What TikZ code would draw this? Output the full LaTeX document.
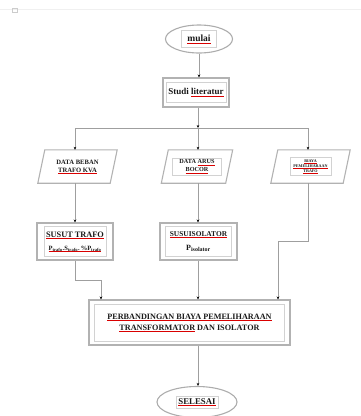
\documentclass[tikz,border=0pt]{standalone}
\usepackage{fontspec}
\setmainfont{Liberation Serif}
\usetikzlibrary{shapes.geometric,arrows.meta}
\newsavebox\rulbox
\newcommand\rul[1]{\sbox\rulbox{#1}\rlap{\textcolor{red!85!black}{\rule[-1.3pt]{\wd\rulbox}{0.35pt}}}\usebox\rulbox}
\tikzset{
  edge/.style={draw=gray!75, line width=0.7pt},
  arr/.style={edge, -{Stealth[length=3pt,width=2.6pt,color=black]}},
  outerbox/.style={draw=gray!60, line width=1.1pt, rectangle, inner sep=0pt},
  outerell/.style={draw=gray!65, line width=1.1pt, ellipse, inner sep=0pt},
  paraframe/.style={draw=gray!60, line width=1.1pt, line join=miter},
  parabody/.style={rectangle, inner sep=0pt},
  txt/.style={draw=gray!35, line width=0.3pt, inner sep=1pt, font=\bfseries, text=black!90, align=center},
}
\newcommand\paradraw[1]{\draw[paraframe] ([xshift=-3.5pt]#1.south west) -- ([xshift=-3.5pt]#1.south east) -- ([xshift=3.5pt]#1.north east) -- ([xshift=3.5pt]#1.north west) -- cycle;}
\begin{document}
\begin{tikzpicture}[x=1pt,y=-1pt]
\useasboundingbox (0,0) rectangle (361,416);
% page edge
\draw[gray!12, line width=0.4pt] (0,9.5) -- (361,9.5);
\draw[gray!40, line width=0.4pt] (12,8) rectangle (17,12);
% nodes
\node[outerell, minimum width=67pt, minimum height=28pt] (mulai) at (199,39) {};
\node[txt, minimum width=35pt, minimum height=17pt, font=\bfseries\fontsize{9.5}{10}\selectfont] (mulait) at (mulai.center) {\rul{mulai}};

\node[outerbox, minimum width=66pt, minimum height=29pt] (studi) at (196,92.5) {};
\node[txt, minimum width=60pt, minimum height=20pt, font=\bfseries\fontsize{9}{10}\selectfont] (studit) at (studi.center) {Studi \rul{literatur}};

\coordinate (jl) at (75,128);
\coordinate (jm) at (198,128);
\coordinate (jr) at (308,128);

\node[parabody, minimum width=72pt, minimum height=33pt] (p1) at (77.5,166.5) {};
\paradraw{p1}
\node[font=\bfseries\fontsize{6.6}{8}\selectfont, text=black!90, align=center, inner sep=1pt] (p1t) at (p1.center) {DATA BEBAN\\ \rul{TRAFO KVA}};

\node[parabody, minimum width=64pt, minimum height=33pt] (p2) at (197,166.5) {};
\paradraw{p2}
\node[txt, minimum width=49pt, minimum height=17pt, font=\bfseries\fontsize{6.2}{8}\selectfont] (p2t) at (p2.center) {DATA \rul{ARUS}\\ \rul{BOCOR}};

\node[parabody, minimum width=72pt, minimum height=33pt] (p3) at (310.5,166.5) {};
\paradraw{p3}
\node[txt, minimum width=41pt, minimum height=18pt, font=\bfseries\fontsize{4.1}{5}\selectfont] (p3t) at (p3.center) {\rul{BIAYA}\\ \rul{PEMELIHARAAN}\\ \rul{TRAFO}};

\node[outerbox, minimum width=76pt, minimum height=37pt] (b1) at (75,241.5) {};
\node[txt, minimum width=62pt, minimum height=30pt, font=\bfseries\fontsize{8.3}{12}\selectfont] (b1t) at (b1.center) {\rul{SUSUT TRAFO}\\[1pt] \fontsize{6.5}{8}\selectfont \rul{P$_{\mathbf{trafo}}$.S$_{\mathbf{trafo}}$.\,\%P$_{\mathbf{trafo}}$}};

\node[outerbox, minimum width=77pt, minimum height=37pt] (b2) at (198.5,241.5) {};
\node[txt, minimum width=66pt, minimum height=30pt, font=\bfseries\fontsize{7.4}{12}\selectfont] (b2t) at (b2.center) {\rul{SUSUISOLATOR}\\[2pt] \fontsize{8}{9}\selectfont P$_{\mathbf{isolator}}$};

\node[outerbox, minimum width=201pt, minimum height=45pt] (big) at (189.5,322.5) {};
\node[txt, minimum width=190pt, minimum height=37pt, font=\bfseries\fontsize{8.2}{11}\selectfont] (bigt) at (big.center) {\rul{PERBANDINGAN BIAYA PEMELIHARAAN}\\ \rul{TRANSFORMATOR} DAN ISOLATOR};

\node[outerell, minimum width=80pt, minimum height=31pt] (selesai) at (197,402) {};
\node[txt, minimum width=42pt, minimum height=12pt, font=\bfseries\fontsize{8.8}{10}\selectfont] (selesait) at (selesai.center) {\rul{SELESAI}};

% connectors
\draw[arr] (mulai.south) -- (mulai.south |- studi.north);
\draw[arr] (studi.south -| jm) -- (jm);
\draw[edge] (jl) -- (jr);
\draw[arr] (jl) -- (jl |- p1.north);
\draw[arr] (jm) -- (jm |- p2.north);
\draw[arr] (jr) -- (jr |- p3.north);
\draw[arr] (jl |- p1.south) -- (jl |- b1.north);
\draw[arr] (jm |- p2.south) -- (jm |- b2.north);
\coordinate (c1) at (75,280);
\coordinate (c2) at (101,280);
\draw[arr] (jl |- b1.south) -- (c1) -- (c2) -- (c2 |- big.north);
\draw[arr] (jm |- b2.south) -- (jm |- big.north);
\coordinate (c3) at (308,241);
\coordinate (c4) at (278,241);
\draw[arr] (jr |- p3.south) -- (c3) -- (c4) -- (c4 |- big.north);
\draw[arr] (jm |- big.south) -- (jm |- selesai.north);
\end{tikzpicture}
\end{document}
